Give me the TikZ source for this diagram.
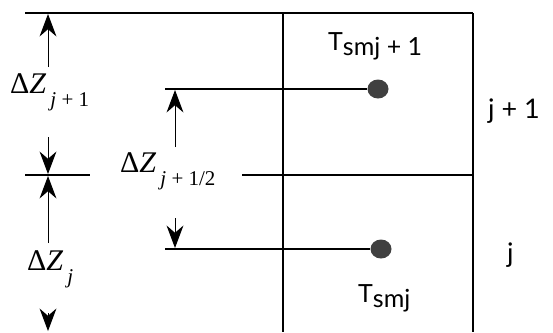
\documentclass[tikz,border=0pt]{standalone}
\usepackage{fontspec}
\newfontfamily\labsf{Lato}
\newfontfamily\serf{Liberation Serif}
\usetikzlibrary{arrows.meta,shapes.geometric}
\newcommand{\dzsub}[1]{{\serf\fontsize{30}{36}\selectfont Δ\textit{Z}}\hspace{4pt}\raisebox{-13pt}{\serf\fontsize{21}{24}\selectfont #1}}
\begin{document}
\begin{tikzpicture}[x=1pt,y=-1pt,
  ln/.style={line width=1.3pt},
  dimarrow/.style={line width=1pt,arrows={-Stealth[scale=3]}},
  dotn/.style={ellipse,fill=black!75,inner sep=0pt,minimum width=21pt,minimum height=19pt},
  dz/.style={anchor=base west,inner sep=0pt},
  tl/.style={anchor=base west,inner sep=0pt,font=\labsf\fontsize{25}{28}\selectfont},
  jl/.style={anchor=base west,inner sep=0pt,font=\labsf\fontsize{27}{32}\selectfont}]
\useasboundingbox (0,0) rectangle (553,332);
% grid lines
\coordinate (tl) at (25,13);
\coordinate (tm) at (283,13);
\coordinate (tr) at (473,13);
\coordinate (bm) at (283,332);
\coordinate (br) at (473,332);
\coordinate (ml1) at (25,175);
\coordinate (ml2) at (90,175);
\coordinate (mr1) at (242,175);
\coordinate (mr2) at (473,175);
\draw[ln] (tl) -- (tr);
\draw[ln] (tm) -- (bm);
\draw[ln] (tr) -- (br);
\draw[ln] (ml1) -- (ml2);
\draw[ln] (mr1) -- (mr2);
% dots
\node[dotn] (d1) at (378,89) {};
\node[dotn] (d0) at (381,249) {};
\coordinate (u1) at (165,89);
\coordinate (u0) at (165,249);
\draw[ln] (u1) -- (d1);
\draw[ln] (u0) -- (d0);
% dimension arrows left
\coordinate (a1s) at (48,67);  \coordinate (a1e) at (48,14);
\coordinate (a2s) at (48,137); \coordinate (a2e) at (48,174);
\coordinate (a3s) at (48,243); \coordinate (a3e) at (48,176);
\coordinate (a4s) at (48,313); \coordinate (a4e) at (48,331);
\draw[dimarrow] (a1s) -- (a1e);
\draw[dimarrow] (a2s) -- (a2e);
\draw[dimarrow] (a3s) -- (a3e);
\draw[dimarrow] (a4s) -- (a4e);
% inner arrows
\coordinate (b1s) at (175,147); \coordinate (b1e) at (175,90);
\coordinate (b2s) at (175,218); \coordinate (b2e) at (175,248);
\draw[dimarrow] (b1s) -- (b1e);
\draw[dimarrow] (b2s) -- (b2e);
% labels
\node[dz] (lz1) at (10,93) {\dzsub{\textit{j} + 1}};
\node[dz] (lzh) at (120,172) {\dzsub{\textit{j} + 1/2}};
\node[dz] (lz0) at (27,270) {\dzsub{\textit{j}}};
\node[tl] (t1) at (328,50) {T\raisebox{-5pt}{smj + 1}};
\node[tl] (t0) at (358,302) {T\raisebox{-5pt}{smj}};
\node[jl] (j1) at (488,118) {j + 1};
\node[jl] (j0) at (507,262) {j};
\end{tikzpicture}
\end{document}
